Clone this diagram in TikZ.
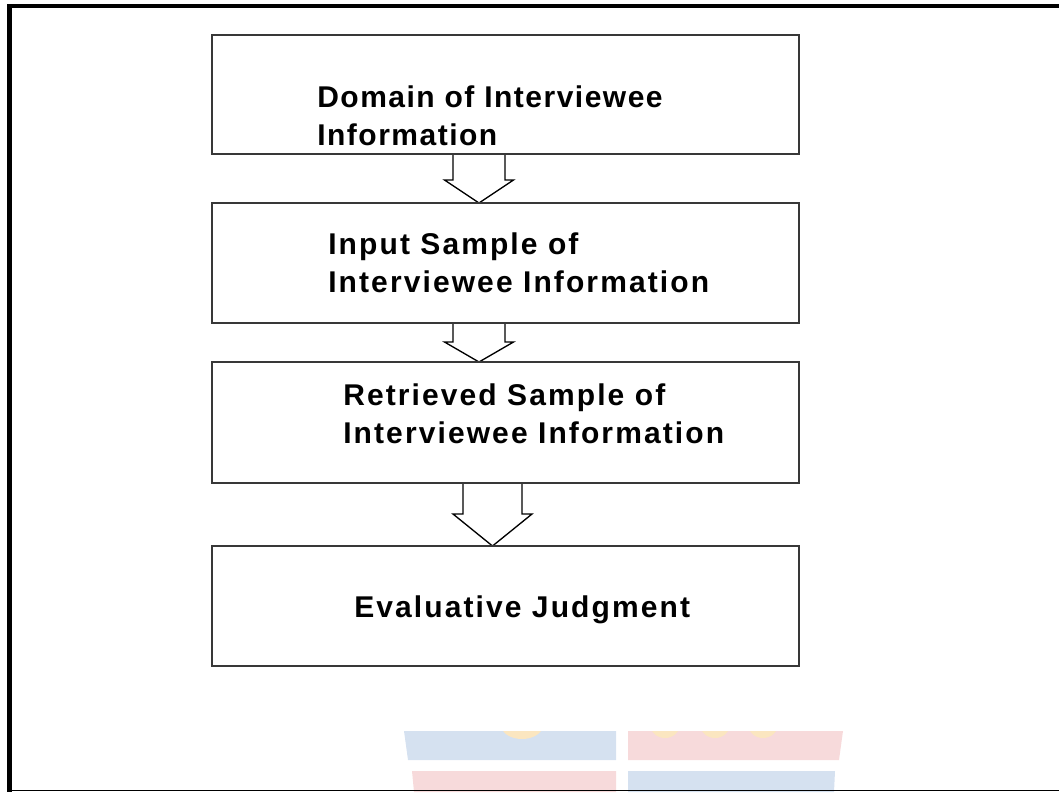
\documentclass[tikz,border=0pt]{standalone}
\usepackage{fontspec}
\usetikzlibrary{calc,backgrounds}
\newfontfamily\boxfont[LetterSpace=7]{Liberation Sans}
\newfontfamily\boxfontA[LetterSpace=5]{Liberation Sans}
\definecolor{boxline}{HTML}{383838}
\definecolor{wmblue}{HTML}{D5E1F0}
\definecolor{wmpink}{HTML}{F7DADB}
\definecolor{wmyellow}{HTML}{FBE6C0}
\tikzset{
  box/.style={draw=boxline, line width=1.5pt, fill=none, rectangle, inner sep=0pt, outer sep=0pt, minimum width=440.25pt},
  lbl/.style={inner sep=0pt, align=left, font={\boxfont\bfseries\fontsize{22.5pt}{28.5pt}\selectfont}},
  lblA/.style={lbl, font={\boxfontA\bfseries\fontsize{22.5pt}{28.5pt}\selectfont}},
  blk/.style={draw=black, fill=white, line width=1pt, line join=miter},
}
\newcommand\blockarrow[6]{%
  \fill[white] let \p1=(#1.south), \p2=(#2.north) in
    ({(#3-#4)*0.75pt},\y1) -- ({(#3-#4)*0.75pt},{\y2+#6*0.75pt}) -- ({(#3-#5)*0.75pt},{\y2+#6*0.75pt}) -- ({#3*0.75pt},\y2) -- ({(#3+#5)*0.75pt},{\y2+#6*0.75pt}) -- ({(#3+#4)*0.75pt},{\y2+#6*0.75pt}) -- ({(#3+#4)*0.75pt},\y1) -- cycle;
  \draw[blk] let \p1=(#1.south), \p2=(#2.north) in
    ({(#3-#4)*0.75pt},\y1) -- ({(#3-#4)*0.75pt},{\y2+#6*0.75pt}) -- ({(#3-#5)*0.75pt},{\y2+#6*0.75pt}) -- ({#3*0.75pt},\y2) -- ({(#3+#5)*0.75pt},{\y2+#6*0.75pt}) -- ({(#3+#4)*0.75pt},{\y2+#6*0.75pt}) -- ({(#3+#4)*0.75pt},\y1);
}
\begin{document}
\begin{tikzpicture}[x=0.75pt,y=-0.75pt]
\useasboundingbox (0,0) rectangle (1059,792);

% faint watermark
\begin{scope}
  \fill[wmblue] (404,731) -- (616,731) -- (616,760) -- (408,760) -- cycle;
  \fill[wmpink] (628,731) -- (843,731) -- (839,760) -- (628,760) -- cycle;
  \fill[wmpink] (412,771) -- (616,771) -- (616,792) -- (414,792) -- cycle;
  \fill[wmblue] (628,771) -- (835,771) -- (834,792) -- (628,792) -- cycle;
  \begin{scope}
    \clip (404,731) rectangle (843,760);
    \fill[wmyellow] (522,725) ellipse [x radius=21, y radius=14];
    \fill[wmyellow] (665,724) ellipse [x radius=15, y radius=14];
    \fill[wmyellow] (715,724) ellipse [x radius=15, y radius=14];
    \fill[wmyellow] (763,724) ellipse [x radius=15, y radius=14];
  \end{scope}
\end{scope}

% outer frame
\fill[black] (7,4) rectangle (1059,8);
\fill[black] (7,4) rectangle (12,792);
\fill[black] (7,789.8) rectangle (1059,791.4);

% boxes
\node[box, minimum height=89.25pt] (b1) at (505.5,94.5) {};
\node[box, minimum height=90pt] (b2) at (505.5,263) {};
\node[box, minimum height=90.75pt] (b3) at (505.5,422.5) {};
\node[box, minimum height=90pt] (b4) at (505.5,606) {};

% block arrows
\begin{scope}[on background layer]
\blockarrow{b1}{b2}{479}{26}{34.5}{23}
\blockarrow{b2}{b3}{479}{26}{34.5}{20}
\blockarrow{b3}{b4}{492.5}{29.5}{39.5}{32}
\end{scope}

% labels
\node[lblA, anchor=base west] (t1) at (317,145) {Domain of Interviewee\\Information};
\node[lbl, anchor=base west] (t2) at (328,292) {Input Sample of\\Interviewee Information};
\node[lbl, anchor=base west] (t3) at (343,443) {Retrieved Sample of\\Interviewee Information};
\node[lbl, anchor=base west] (t4) at (354,617) {Evaluative Judgment};
\end{tikzpicture}
\end{document}
